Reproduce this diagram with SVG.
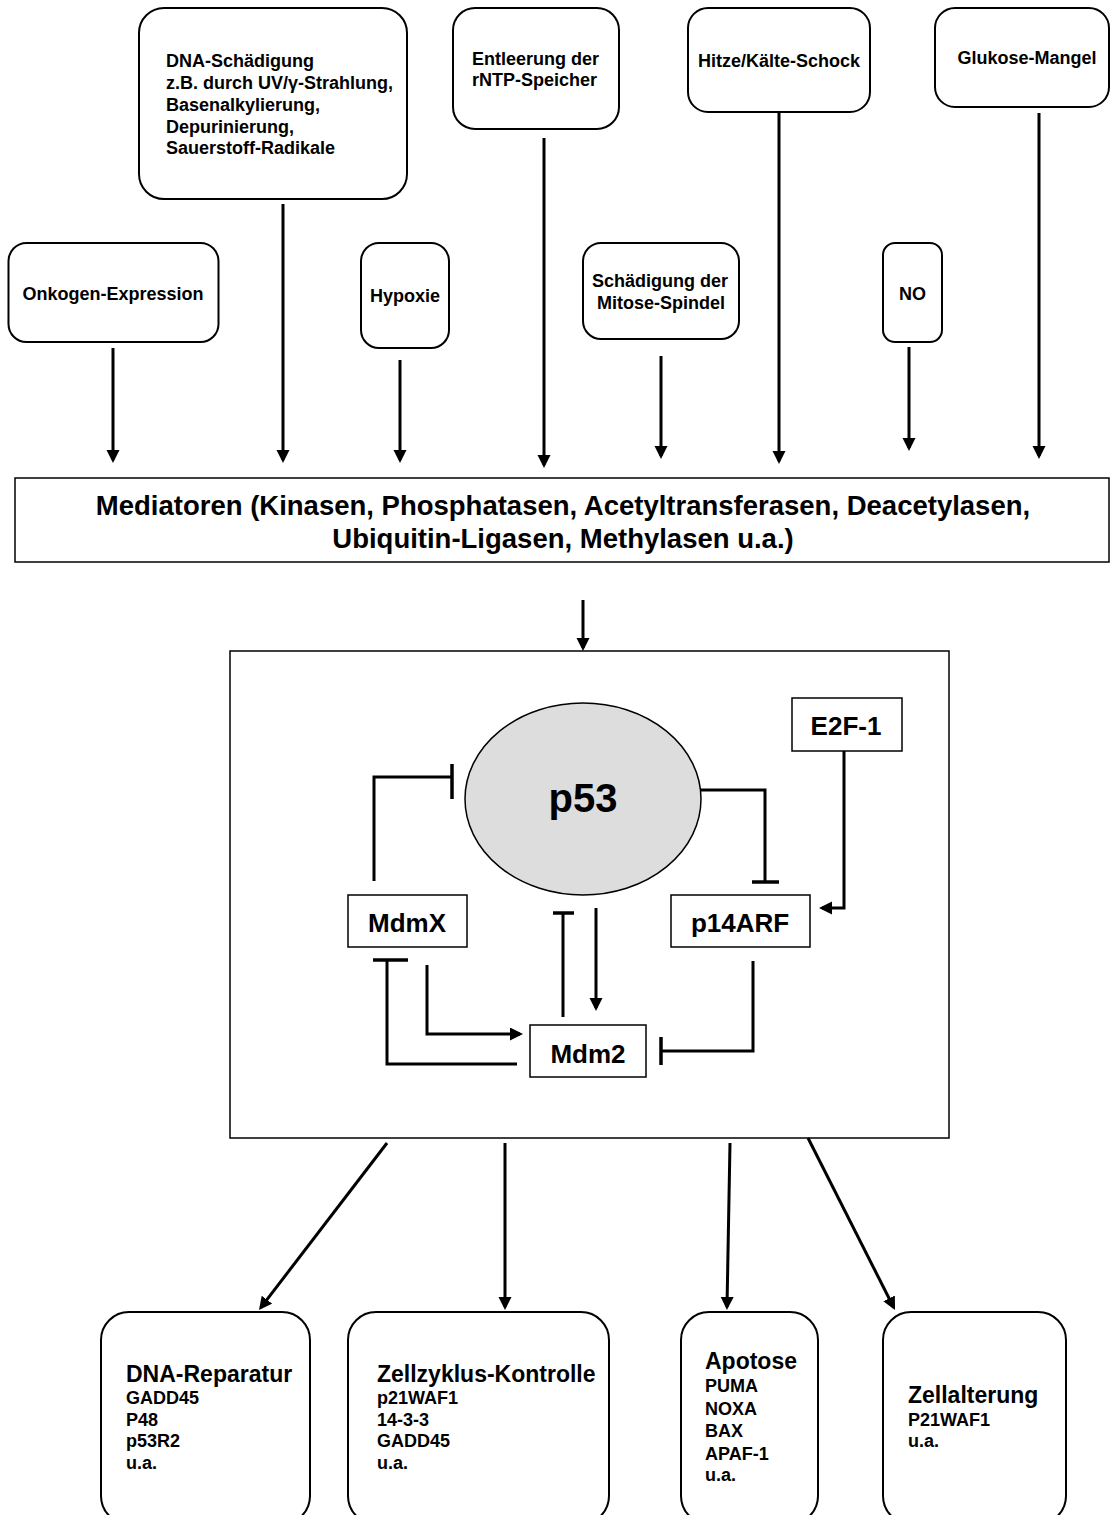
<svg xmlns="http://www.w3.org/2000/svg" width="1110" height="1515" viewBox="0 0 1110 1515">
  <defs>
    <marker id="arr" markerUnits="userSpaceOnUse" markerWidth="14" markerHeight="14" refX="10" refY="6.5" orient="auto">
      <path d="M0,0 L13,6.5 L0,13 Z" fill="#000"/>
    </marker>
    <style>
      .t { font-family: "Liberation Sans", Arial, sans-serif; font-weight: bold; fill: #000; }
      .s18 { font-size: 18px; }
      .s28 { font-size: 27.5px; }
      .s26 { font-size: 26px; }
      .s40 { font-size: 40px; }
      .s22 { font-size: 23px; }
      .s17 { font-size: 18px; }
      .mid { text-anchor: middle; }
      .rbox { fill: #fff; stroke: #000; stroke-width: 2; }
      .sbox { fill: #fff; stroke: #000; stroke-width: 1.5; }
      .ln { fill: none; stroke: #000; stroke-width: 3; }
      .bar { fill: none; stroke: #000; stroke-width: 3.5; }
    </style>
  </defs>
  <rect width="1110" height="1515" fill="#fff"/>

  <!-- Top stimulus nodes -->
  <g id="onkogen">
    <rect class="rbox" x="8.5" y="243" width="210" height="99" rx="18"/>
    <text class="t s18 mid" x="113" y="300">Onkogen-Expression</text>
  </g>
  <g id="dna-schaedigung">
    <rect class="rbox" x="139" y="8" width="268" height="191" rx="25"/>
    <text class="t s18" x="166" y="67">DNA-Schädigung</text>
    <text class="t s18" x="166" y="89">z.B. durch UV/γ-Strahlung,</text>
    <text class="t s18" x="166" y="111">Basenalkylierung,</text>
    <text class="t s18" x="166" y="133">Depurinierung,</text>
    <text class="t s18" x="166" y="154">Sauerstoff-Radikale</text>
  </g>
  <g id="hypoxie">
    <rect class="rbox" x="361" y="243" width="88" height="105" rx="18"/>
    <text class="t s18 mid" x="405" y="302">Hypoxie</text>
  </g>
  <g id="entleerung">
    <rect class="rbox" x="453" y="8" width="166" height="121" rx="22"/>
    <text class="t s18" x="472" y="65">Entleerung der</text>
    <text class="t s18" x="472" y="86">rNTP-Speicher</text>
  </g>
  <g id="mitose">
    <rect class="rbox" x="583" y="243" width="156" height="96" rx="18"/>
    <text class="t s18 mid" x="660" y="287">Schädigung der</text>
    <text class="t s18 mid" x="661" y="309">Mitose-Spindel</text>
  </g>
  <g id="hitze">
    <rect class="rbox" x="688" y="8" width="182" height="104" rx="20"/>
    <text class="t s18 mid" x="779" y="67">Hitze/Kälte-Schock</text>
  </g>
  <g id="no">
    <rect class="rbox" x="883" y="243" width="59" height="99" rx="12"/>
    <text class="t s18 mid" x="912.5" y="300">NO</text>
  </g>
  <g id="glukose">
    <rect class="rbox" x="935" y="8" width="174" height="99" rx="20"/>
    <text class="t s18 mid" x="1027" y="64">Glukose-Mangel</text>
  </g>

  <!-- Mediators -->
  <g id="mediatoren">
    <rect class="sbox" x="15" y="478" width="1094" height="84"/>
    <text class="t s28 mid" x="563" y="515">Mediatoren (Kinasen, Phosphatasen, Acetyltransferasen, Deacetylasen,</text>
    <text class="t s28 mid" x="563" y="548">Ubiquitin-Ligasen, Methylasen u.a.)</text>
  </g>

  <!-- Main p53 network box -->
  <g id="netzwerk">
    <rect class="sbox" x="230" y="651" width="719" height="487"/>
  </g>
  <g id="p53">
    <ellipse cx="583" cy="799" rx="118" ry="96" fill="#dddddd" stroke="#000" stroke-width="1.5"/>
    <text class="t s40 mid" x="583" y="812">p53</text>
  </g>
  <g id="e2f1">
    <rect class="sbox" x="792" y="698" width="110" height="53"/>
    <text class="t s26 mid" x="846" y="735">E2F-1</text>
  </g>
  <g id="mdmx">
    <rect class="sbox" x="348" y="895" width="119" height="52"/>
    <text class="t s26 mid" x="407" y="932">MdmX</text>
  </g>
  <g id="p14arf">
    <rect class="sbox" x="671" y="895" width="139" height="52"/>
    <text class="t s26 mid" x="740" y="932">p14ARF</text>
  </g>
  <g id="mdm2">
    <rect class="sbox" x="530" y="1025" width="116" height="52"/>
    <text class="t s26 mid" x="588" y="1063">Mdm2</text>
  </g>

  <!-- Outcome nodes -->
  <g id="dna-reparatur">
    <rect class="rbox" x="101" y="1312" width="209" height="212" rx="28"/>
    <text class="t s22" x="126" y="1382">DNA-Reparatur</text>
    <text class="t s17" x="126" y="1404">GADD45</text>
    <text class="t s17" x="126" y="1426">P48</text>
    <text class="t s17" x="126" y="1447">p53R2</text>
    <text class="t s17" x="126" y="1469">u.a.</text>
  </g>
  <g id="zellzyklus">
    <rect class="rbox" x="348" y="1312" width="261" height="212" rx="28"/>
    <text class="t s22" x="377" y="1382">Zellzyklus-Kontrolle</text>
    <text class="t s17" x="377" y="1404">p21WAF1</text>
    <text class="t s17" x="377" y="1426">14-3-3</text>
    <text class="t s17" x="377" y="1447">GADD45</text>
    <text class="t s17" x="377" y="1469">u.a.</text>
  </g>
  <g id="apotose">
    <rect class="rbox" x="681" y="1312" width="137" height="212" rx="28"/>
    <text class="t s22" x="705" y="1369">Apotose</text>
    <text class="t s17" x="705" y="1392">PUMA</text>
    <text class="t s17" x="705" y="1415">NOXA</text>
    <text class="t s17" x="705" y="1437">BAX</text>
    <text class="t s17" x="705" y="1460">APAF-1</text>
    <text class="t s17" x="705" y="1481">u.a.</text>
  </g>
  <g id="zellalterung">
    <rect class="rbox" x="883" y="1312" width="183" height="212" rx="28"/>
    <text class="t s22" x="908" y="1403">Zellalterung</text>
    <text class="t s17" x="908" y="1426">P21WAF1</text>
    <text class="t s17" x="908" y="1447">u.a.</text>
  </g>

  <!-- Connectors -->
  <g id="connectors">
    <!-- stimuli to mediators -->
    <path class="ln" d="M113,348 V460" marker-end="url(#arr)"/>
    <path class="ln" d="M283,204 V460" marker-end="url(#arr)"/>
    <path class="ln" d="M400,360 V460" marker-end="url(#arr)"/>
    <path class="ln" d="M544,138 V465" marker-end="url(#arr)"/>
    <path class="ln" d="M661,356 V456" marker-end="url(#arr)"/>
    <path class="ln" d="M779,113 V461" marker-end="url(#arr)"/>
    <path class="ln" d="M909,347 V448" marker-end="url(#arr)"/>
    <path class="ln" d="M1039,113 V456" marker-end="url(#arr)"/>
    <!-- mediators to network -->
    <path class="ln" d="M583,600 V648" marker-end="url(#arr)"/>
    <!-- MdmX -| p53 -->
    <path class="ln" d="M374,881 V777 H452"/>
    <path class="bar" d="M452,764 V799"/>
    <!-- p53 -| p14ARF -->
    <path class="ln" d="M701,790 H765 V882"/>
    <path class="bar" d="M752,882 H779"/>
    <!-- E2F-1 -> p14ARF -->
    <path class="ln" d="M844,751 V908 H822" marker-end="url(#arr)"/>
    <!-- Mdm2 -| p53 -->
    <path class="ln" d="M563,1017 V913"/>
    <path class="bar" d="M553,913 H574"/>
    <!-- p53 -> Mdm2 -->
    <path class="ln" d="M596,908 V1008" marker-end="url(#arr)"/>
    <!-- MdmX -> Mdm2 -->
    <path class="ln" d="M427,965 V1034 H520" marker-end="url(#arr)"/>
    <!-- Mdm2 -| MdmX -->
    <path class="ln" d="M517,1064 H387 V960"/>
    <path class="bar" d="M373,960 H408"/>
    <!-- p14ARF -| Mdm2 -->
    <path class="ln" d="M753,961 V1051 H661"/>
    <path class="bar" d="M661,1037 V1065"/>
    <!-- network to outcomes -->
    <path class="ln" d="M387,1143 L260.8,1307.6" marker-end="url(#arr)"/>
    <path class="ln" d="M505,1143 V1307" marker-end="url(#arr)"/>
    <path class="ln" d="M730,1143 L727,1307" marker-end="url(#arr)"/>
    <path class="ln" d="M808,1138 L893.6,1307.3" marker-end="url(#arr)"/>
  </g>
</svg>
